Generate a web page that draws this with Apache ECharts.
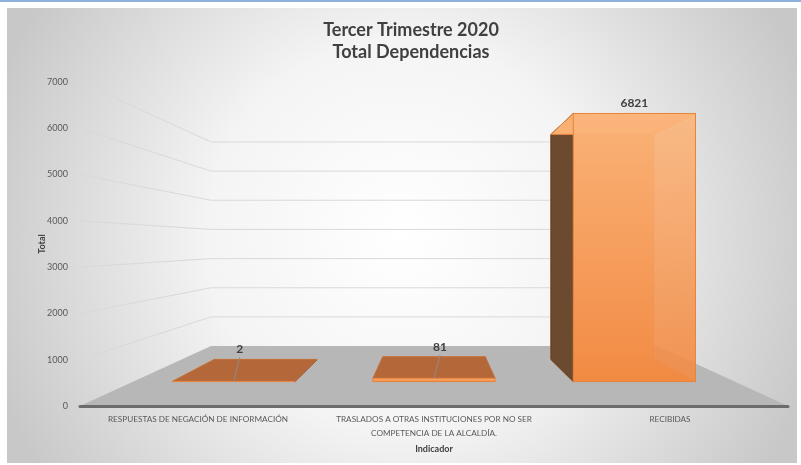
<!DOCTYPE html>
<html>
<head>
<meta charset="utf-8">
<script src="https://cdn.jsdelivr.net/npm/echarts@6/dist/echarts.min.js"></script>
<style>
  html, body { margin: 0; padding: 0; background: #fff; }
  #grafico { width: 801px; height: 465px; }
</style>
</head>
<body>
<div id="grafico"></div>
<script>
let d = document;

let categorias = [
  "RESPUESTAS DE NEGACIÓN DE INFORMACIÓN",
  "TRASLADOS A OTRAS INSTITUCIONES POR NO SER\nCOMPETENCIA DE LA ALCALDÍA.",
  "RECIBIDAS"
];
let totales = [2, 81, 6821];
let marcas = [0, 1000, 2000, 3000, 4000, 5000, 6000, 7000];

// profundidad de cada plano (1 = plano de frente)
let kFrente = 0.849, kFondo = 0.713, kPared = 0.63;

let proy = (p, k, c) => [c[0] + (p[0] - c[0]) * k, c[1] + (p[1] - c[1]) * k];

window.onload = (e) => {
  let chart = echarts.init(d.getElementById("grafico"));

  function piso(params, api) {
    let cs = params.coordSys;
    let c = [cs.x + cs.width / 2, cs.y + cs.height / 2];
    let x0 = cs.x, x1 = cs.x + cs.width;
    let y0 = api.coord([0, 0])[1];
    let hijos = [];
    marcas.forEach((m) => {
      if (m === 0) return;
      let y = api.coord([0, m])[1];
      hijos.push({
        type: "polyline",
        shape: { points: [[x0, y], proy([x0, y], kPared, c), proy([x1, y], kPared, c)] },
        style: { stroke: "#d9d9d9", lineWidth: 1, fill: null }
      });
    });
    hijos.push({
      type: "polygon",
      shape: { points: [[x0, y0], [x1, y0], proy([x1, y0], kPared, c), proy([x0, y0], kPared, c)] },
      style: { fill: "#b7b7b7" }
    });
    return { type: "group", children: hijos };
  }

  function barra(params, api) {
    let cs = params.coordSys;
    let c = [cs.x + cs.width / 2, cs.y + cs.height / 2];
    let i = api.value(0), v = api.value(1);
    let base = api.coord([i, 0]), tope = api.coord([i, v]);
    let hw = api.size([1, 0])[0] * 0.305;
    let X0 = base[0] - hw, X1 = base[0] + hw, Yb = base[1], Yt = tope[1];

    let fbl = proy([X0, Yb], kFrente, c), fbr = proy([X1, Yb], kFrente, c);
    let ftl = proy([X0, Yt], kFrente, c), ftr = proy([X1, Yt], kFrente, c);
    let bbl = proy([X0, Yb], kFondo, c), bbr = proy([X1, Yb], kFondo, c);
    let btl = proy([X0, Yt], kFondo, c), btr = proy([X1, Yt], kFondo, c);

    let borde = "#e8843c";
    let hijos = [];
    hijos.push({ type: "polygon", shape: { points: [btl, btr, bbr, bbl] }, style: { fill: "#f0914c", stroke: borde, lineWidth: 1 } });
    hijos.push({ type: "polygon", shape: { points: [fbl, fbr, bbr, bbl] }, style: { fill: "#e9843e", stroke: borde, lineWidth: 1 } });

    let lado = null, otro = null;
    if (X0 > c[0]) { lado = [ftl, btl, bbl, fbl]; otro = [ftr, btr, bbr, fbr]; }
    else if (X1 < c[0]) { lado = [ftr, btr, bbr, fbr]; otro = [ftl, btl, bbl, fbl]; }
    if (otro) hijos.push({ type: "polygon", shape: { points: otro }, style: { fill: null, stroke: borde, lineWidth: 1 } });
    if (lado) hijos.push({ type: "polygon", shape: { points: lado }, style: { fill: "#6c4a30", stroke: "#5e3f28", lineWidth: 1 } });

    let arriba = ftl[1] > btl[1];
    hijos.push({
      type: "polygon",
      shape: { points: [ftl, ftr, btr, btl] },
      style: { fill: arriba ? "#b4683a" : "#f9b074", stroke: arriba ? "#c0703c" : borde, lineWidth: 1 }
    });
    hijos.push({
      type: "polygon",
      shape: { points: [ftl, ftr, fbr, fbl] },
      style: {
        fill: { type: "linear", x: 0, y: 0, x2: 0, y2: 1, colorStops: [{ offset: 0, color: "rgba(251,182,124,0.9)" }, { offset: 1, color: "rgba(242,138,67,0.9)" }] },
        stroke: borde, lineWidth: 1
      }
    });

    let cx = (ftl[0] + ftr[0]) / 2;
    let ly = Math.min(ftl[1], btl[1]) - 4;
    if (ftl[1] - ly > 12) {
      hijos.push({ type: "line", shape: { x1: cx + 6, y1: ly + 2, x2: cx, y2: ftl[1] }, style: { stroke: "#8c8c8c", lineWidth: 1 } });
      cx += 6;
    }
    hijos.push({
      type: "text",
      style: { text: String(v), x: cx, y: ly, align: "center", verticalAlign: "bottom", fill: "#404040", font: "bold 12px Lato" }
    });
    return { type: "group", children: hijos };
  }

  chart.setOption({
    animation: false,
    graphic: [
      {
        type: "rect", z: -10, silent: true,
        shape: { x: 7, y: 8, width: 790, height: 455 },
        style: { fill: { type: "radial", x: 0.5, y: 0.5, r: 0.95, colorStops: [{ offset: 0, color: "#ffffff" }, { offset: 0.45, color: "#f4f4f4" }, { offset: 1, color: "#c8c8c8" }] } }
      },
      { type: "rect", z: -10, silent: true, shape: { x: 0, y: 0, width: 801, height: 2 }, style: { fill: "#8eb1e0" } }
    ],
    title: {
      text: "Tercer Trimestre 2020\nTotal Dependencias",
      left: 411, top: 19, padding: 0, textAlign: "center",
      textStyle: { fontFamily: "Lato", fontWeight: "bold", fontSize: 18, color: "#404040", lineHeight: 22 }
    },
    grid: { left: 80, right: 13, top: 82, bottom: 59 },
    xAxis: {
      type: "category",
      data: categorias,
      z: 5,
      name: "Indicador", nameLocation: "middle", nameGap: 36,
      nameTextStyle: { fontFamily: "Lato", fontWeight: "bold", fontSize: 9, color: "#404040" },
      axisLine: { lineStyle: { color: "#6b6b6b", width: 3 } },
      axisTick: { show: false },
      axisLabel: { margin: 6, fontFamily: "Lato", fontSize: 8.2, color: "#595959", lineHeight: 14, interval: 0 }
    },
    yAxis: {
      type: "value", min: 0, max: 7000, interval: 1000,
      name: "Total", nameLocation: "middle", nameGap: 33, nameRotate: 90, nameMoveOverlap: false,
      nameTextStyle: { fontFamily: "Lato", fontWeight: "bold", fontSize: 9, color: "#404040" },
      axisLine: { show: false }, axisTick: { show: false }, splitLine: { show: false },
      axisLabel: { margin: 12, fontFamily: "Lato", fontSize: 9, color: "#595959", formatter: (v) => String(v) }
    },
    series: [
      { type: "custom", z: 1, silent: true, clip: false, renderItem: piso, data: [[0, 0]] },
      { type: "custom", z: 2, silent: true, clip: false, renderItem: barra, data: totales.map((t, i) => [i, t]) }
    ]
  });
};
</script>
</body>
</html>
